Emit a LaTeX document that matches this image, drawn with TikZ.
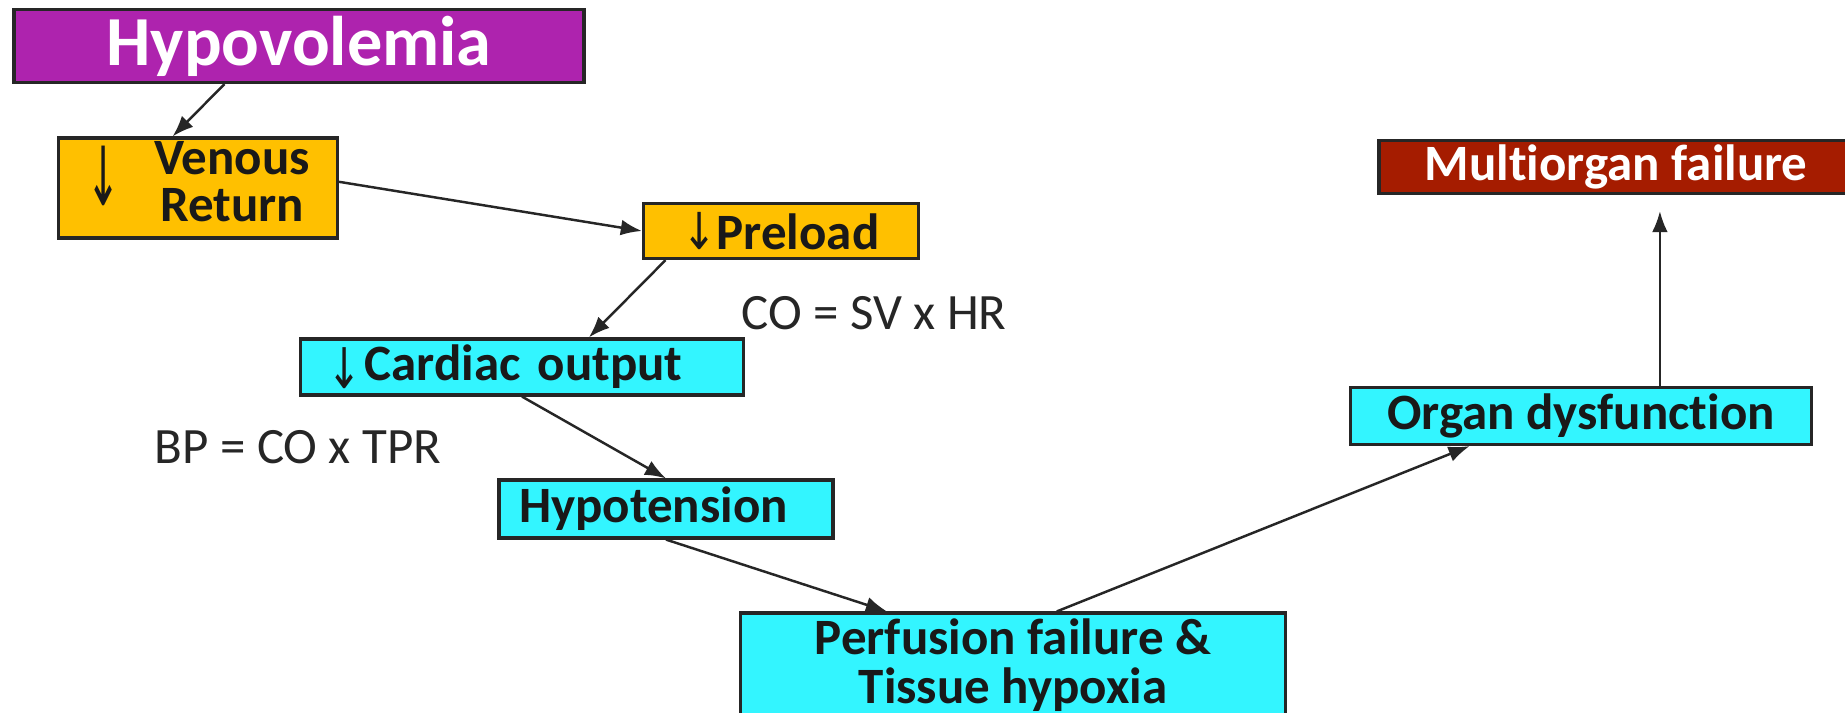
\documentclass[tikz,border=0pt]{standalone}
\usepackage{fontspec}
\setmainfont{Carlito}[Ligatures=NoCommon]
\newfontfamily\arrowfont{DejaVu Sans}
\usepackage{xcolor}
\usepackage{graphicx}
\usepackage{tikz}
\usetikzlibrary{arrows.meta,calc}

\definecolor{hypopurple}{HTML}{AE23AE}
\definecolor{boxorange}{HTML}{FFC000}
\definecolor{boxcyan}{HTML}{33F5FF}
\definecolor{failred}{HTML}{A51C00}

\newcommand{\dnarrow}{{\arrowfont\mdseries ↓}}

\tikzset{
  flowbox/.style={draw=black!85, line width=0.9pt, align=center, inner sep=0pt,
    font=\bfseries\fontsize{14.5}{12.8}\selectfont, text=black!90},
  flowarrow/.style={-{Latex[length=6pt,width=4.5pt]}, line width=0.7pt, black!85},
  eqnote/.style={font=\fontsize{14.5}{17}\selectfont, text=black!85}
}

\begin{document}
\begin{tikzpicture}[x=0.1mm, y=-0.1mm]
  % canvas (1 unit = 1 px of the slide)
  \clip (0,0) rectangle (1845,712);
  \fill[white] (0,0) rectangle (1845,712);

  % Cause
  \node[flowbox, fill=hypopurple, text=white, font=\bfseries\fontsize{20}{24}\selectfont,
    minimum width=57mm, minimum height=7.3mm] (hypo) at (299,46) {Hypovolemia};

  % Haemodynamic chain
  \node[flowbox, fill=boxorange, minimum width=27.9mm, minimum height=10mm]
    (venous) at (198,188)
    {\raisebox{-0.2ex}{\scalebox{0.8}[1.6]{\dnarrow}}\hspace{3.4mm}%
     \begin{tabular}{@{}c@{}}Venous\\Return\end{tabular}};
  \node[flowbox, fill=boxorange, minimum width=27.5mm, minimum height=5.5mm]
    (preload) at (781,231) {\scalebox{0.8}[1]{\dnarrow}Preload};
  \node[flowbox, fill=boxcyan, text width=38.9mm, align=left, inner xsep=2.7mm,
    minimum height=5.6mm] (cardiac) at (522,367)
    {\raisebox{-0.3ex}{\scalebox{0.8}[1.1]{\dnarrow}}\hspace{0.3mm}Cardiac output};
  \node[flowbox, fill=boxcyan, text width=29.4mm, align=left, inner xsep=2mm,
    minimum height=5.8mm] (hypoten) at (666,509) {Hypotension};

  % Tissue level (runs off the bottom of the slide)
  \node[flowbox, fill=boxcyan, minimum width=54.5mm, minimum height=10.4mm,
    font=\bfseries\fontsize{14.5}{14}\selectfont]
    (perfusion) at (1013,665) {Perfusion failure \&\\Tissue hypoxia};
  \node[flowbox, fill=boxcyan, minimum width=46.1mm, minimum height=5.7mm]
    (organ) at (1581,416) {Organ dysfunction};
  \node[flowbox, fill=failred, text=white, minimum width=47.4mm, minimum height=5.3mm]
    (multi) at (1616,167) {Multiorgan failure};

  % Formulas
  \node[eqnote] (coeq) at (874,313) {CO = SV x HR};
  \node[eqnote] (bpeq) at (298,447) {BP = CO x TPR};

  % Connectors
  \draw[flowarrow] ($(hypo.south west)!0.37!(hypo.south east)$)
    -- ($(venous.north west)!0.41!(venous.north east)$);
  \draw[flowarrow] ($(venous.north east)!0.44!(venous.south east)$) -- (preload.west);
  \draw[flowarrow] ($(preload.south west)!0.085!(preload.south east)$)
    -- ($(cardiac.north west)!0.65!(cardiac.north east)$);
  \draw[flowarrow] (cardiac.south) -- (hypoten.north);
  \draw[flowarrow] (hypoten.south)
    -- ($(perfusion.north west)!0.27!(perfusion.north east)$);
  \draw[flowarrow] ($(perfusion.north west)!0.58!(perfusion.north east)$)
    -- ($(organ.south west)!0.26!(organ.south east)$);
  \coordinate (orgtop) at ($(organ.north west)!0.67!(organ.north east)$);
  \draw[flowarrow, shorten >=1.6mm] (orgtop) -- (orgtop |- multi.south);
\end{tikzpicture}
\end{document}
